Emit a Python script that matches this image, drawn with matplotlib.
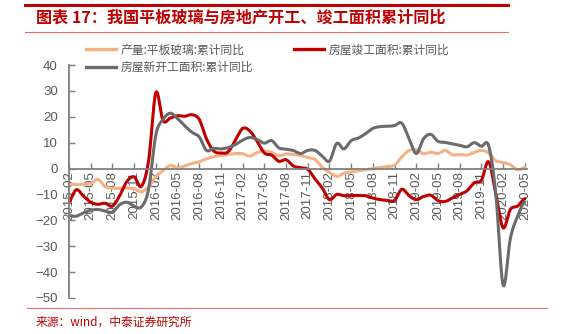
import matplotlib
matplotlib.use("Agg")
import matplotlib.pyplot as plt
from matplotlib.lines import Line2D
import numpy as np
import pandas as pd

plt.rcParams['font.family'] = ['Liberation Sans', 'Noto Sans CJK SC', 'DejaVu Sans']

# monthly, 2015-02 .. 2020-05
months = pd.period_range("2015-02", "2020-05", freq="M")
labels = [p.strftime("%Y-%m") for p in months]

glass = [-6, -6.2, -6.2, -5.8, -4.2, -7, -7.6, -7.6, -7.6, -7.8, -9,
         -7, -3, -0.8, 1.2, 0.3, 1, 2, 2.6, 3.8, 4.6, 5, 5.4,
         5.8, 5.7, 4.8, 6.2, 6.8, 6.2, 5, 5.6, 5.5, 5, 4.3, 3.5,
         0.5, -1.5, -3, -1.8, -1.3, -0.9, -0.5, 0, 0.4, 0.8, 1.3, 4.5,
         7, 7.2, 5.8, 6.3, 5.8, 7, 5.3, 5.4, 5.2, 6.2, 7, 6,
         3, 2.3, 1.5, -0.5, 0.4]

completed = [-12.8, -8.2, -10.6, -13, -13.8, -13.4, -14.5, -10.5, -5, -3.2, -6.9,
             3, 29.3, 18.5, 19.5, 20.4, 20.2, 20.8, 19, 11.5, 6.8, 6, 6.5,
             11, 15.5, 14.5, 10.5, 6, 5.2, 2.8, 3.4, 1, 0.3, -0.3, -4,
             -7.5, -12, -10, -10.5, -10.4, -10.4, -10.5, -11.4, -12, -12.3, -12.3, -8,
             -10.5, -12, -10.8, -10.3, -12.4, -12.7, -11.3, -10, -8.6, -5.5, -4.5, 2.6,
             -10, -22.9, -15.8, -14.5, -11.6]

new_start = [-18.2, -18.4, -17.1, -16.1, -15.8, -16.4, -16.8, -14, -13, -14.5, -14.8,
             -8, 13, 19, 21.4, 19.3, 16.5, 14, 12.2, 7, 7.8, 7.6, 8.1,
             9.3, 11, 12, 11.2, 9.8, 10.8, 8, 7.5, 7, 5.8, 7, 7,
             4.8, 2.9, 9.7, 7.6, 10.8, 11.8, 13.5, 15.5, 16.2, 16.3, 16.6, 17.5,
             11.5, 5.8, 11.5, 13.2, 10.5, 10.1, 9.5, 9, 8.4, 10, 8.6, 8.8,
             -10, -45, -27, -18.4, -12.8]

names = ["产量:平板玻璃:累计同比", "房屋竣工面积:累计同比", "房屋新开工面积:累计同比"]
colors = ["#F4B183", "#C00000", "#6B6B6B"]


def smooth(y, n=12):
    # catmull-rom, like excel's smoothed line
    y = np.asarray(y, dtype=float)
    x = np.arange(len(y), dtype=float)
    p = np.concatenate([[y[0]], y, [y[-1]]])
    xs, ys = [], []
    t = np.linspace(0, 1, n, endpoint=False)
    for i in range(len(y) - 1):
        p0, p1, p2, p3 = p[i], p[i + 1], p[i + 2], p[i + 3]
        yy = 0.5 * (2 * p1 + (-p0 + p2) * t + (2 * p0 - 5 * p1 + 4 * p2 - p3) * t ** 2
                    + (-p0 + 3 * p1 - 3 * p2 + p3) * t ** 3)
        xs.append(x[i] + t)
        ys.append(yy)
    xs.append([x[-1]])
    ys.append([y[-1]])
    return np.concatenate(xs), np.concatenate(ys)


fig = plt.figure(figsize=(5.62, 3.34), dpi=100)
ax = fig.add_axes([69 / 562, 36 / 334, 458 / 562, 233 / 334])

for vals, c in zip([glass, completed, new_start], colors):
    sx, sy = smooth(vals)
    ax.plot(sx, sy, color=c, lw=2.2, solid_capstyle="round")

for s in ["top", "right"]:
    ax.spines[s].set_visible(False)
# set_position resets the ticks, so do it before the tick labels
ax.spines["bottom"].set_position(("data", 0))
ax.spines["bottom"].set_color("#7F7F7F")
ax.spines["left"].set_color("#7F7F7F")
ax.spines["bottom"].set_linewidth(1.3)
ax.spines["left"].set_linewidth(1.3)

ax.set_xlim(0, 63.3)
ax.set_ylim(-50, 40)
ax.set_yticks(range(-50, 41, 10))
ax.set_xticks(range(0, 64, 3))
ax.set_xticklabels(labels[::3], rotation=90, va="top", ha="center")

ax.tick_params(axis="both", direction="in", length=4, color="#7F7F7F", width=1,
               labelcolor="#595959")
ax.tick_params(axis="y", labelsize=9.5, pad=8)
ax.tick_params(axis="x", labelsize=9.5, pad=2)

# legend, row-major order: glass, completed / new starts
handles = [Line2D([], [], color=c, lw=2.4) for c in colors]
order = [0, 2, 1]
fig.legend([handles[i] for i in order], [names[i] for i in order],
           loc="upper left", bbox_to_anchor=(75 / 562, 1 - 33 / 334),
           ncol=2, frameon=False, handlelength=2.6, handletextpad=0.4,
           columnspacing=3.4, labelspacing=0.35,
           prop={"family": ["Noto Sans CJK SC"], "size": 8.5}, labelcolor="#595959")

# title & frame lines
fig.add_artist(Line2D([25 / 562, 508 / 562], [1 - 4.5 / 334] * 2, color="#C00000", lw=2.2))
fig.add_artist(Line2D([25 / 562, 508 / 562], [1 - 31.5 / 334] * 2, color="#E07070", lw=0.8))
fig.add_artist(Line2D([27 / 562, 547 / 562], [1 - 308 / 334] * 2, color="#E07070", lw=0.8))
fig.text(36 / 562, 1 - 18 / 334, "图表 17：我国平板玻璃与房地产开工、竣工面积累计同比",
         color="#C00000", fontsize=11.6, fontweight="bold", style="italic",
         family=["Noto Sans CJK SC"], va="center", ha="left")
fig.text(36 / 562, 1 - 322 / 334, "来源：wind，中泰证券研究所",
         color="#C00000", fontsize=8.5, family=["Noto Sans CJK SC"], va="center", ha="left")

fig.savefig("out.png", dpi=100)
